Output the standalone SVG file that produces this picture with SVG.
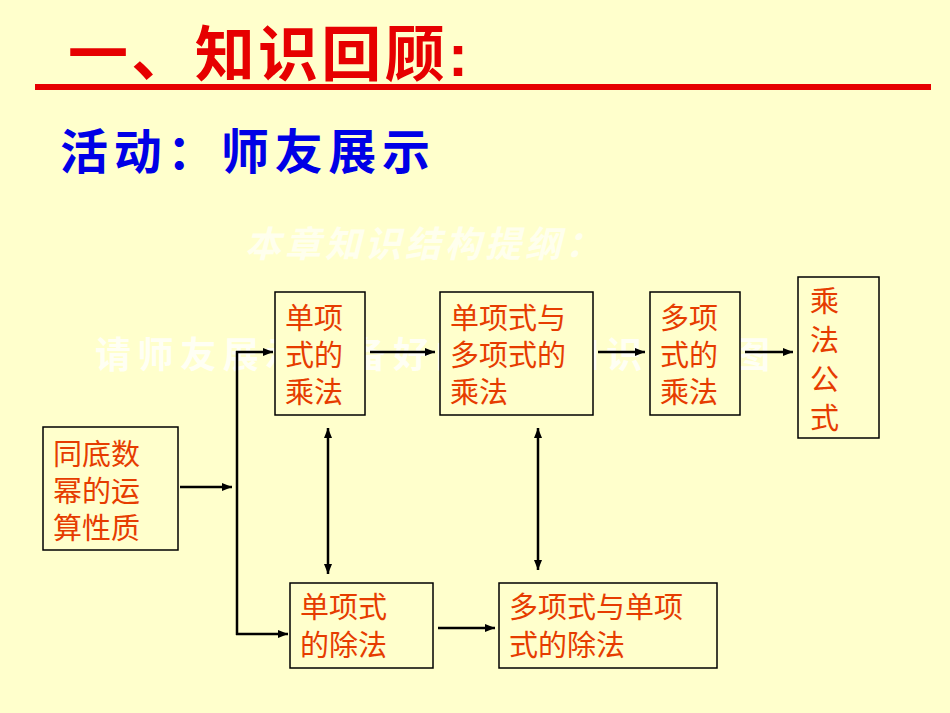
<svg xmlns="http://www.w3.org/2000/svg" width="950" height="713" viewBox="0 0 950 713">
<defs>
<marker id="ah" viewBox="0 0 10 10" refX="10" refY="5" markerWidth="4" markerHeight="4" orient="auto-start-reverse" markerUnits="strokeWidth"><path d="M0,1 L10,5 L0,9 z" fill="#000"/></marker>
<style>
.box{fill:#FFFFCC;stroke:#000;stroke-width:1.5}
.t{font-family:"Liberation Sans","Noto Sans CJK SC",sans-serif;font-size:29px;fill:#E63C00}
.c{stroke:#000;stroke-width:2.5;fill:none}
.a{marker-end:url(#ah)}
</style>
</defs>
<rect width="950" height="713" fill="#FFFFCC"/>
<text x="68" y="76" font-family="Liberation Sans,Noto Sans CJK SC,sans-serif" font-size="60" font-weight="bold" fill="#E60000" textLength="400">一、知识回顾:</text>
<rect x="35" y="84" width="896" height="6" fill="#E60000"/>
<text x="60" y="169" font-family="Liberation Sans,Noto Sans CJK SC,sans-serif" font-size="48" font-weight="bold" fill="#0000E6" textLength="370">活动：师友展示</text>
<text x="245" y="257" font-family="Noto Sans CJK SC,sans-serif" font-size="36" font-weight="bold" fill="#FFFFEE" font-style="italic" letter-spacing="4">本章知识结构提纲：</text>
<text x="95" y="368" font-family="Noto Sans CJK SC,sans-serif" font-size="36" font-weight="bold" fill="#FFFFF4" textLength="675">请师友展示准备好的本章知识结构图</text>
<g id="n1"><rect class="box" x="43" y="427" width="135" height="123"/><text class="t" x="53" y="465">同底数</text><text class="t" x="53" y="502">幂的运</text><text class="t" x="53" y="539">算性质</text></g>
<g id="n2"><rect class="box" x="275" y="292" width="90" height="123"/><text class="t" x="285" y="329">单项</text><text class="t" x="285" y="366">式的</text><text class="t" x="285" y="403">乘法</text></g>
<g id="n3"><rect class="box" x="440" y="292" width="153" height="123"/><text class="t" x="450" y="329">单项式与</text><text class="t" x="450" y="366">多项式的</text><text class="t" x="450" y="403">乘法</text></g>
<g id="n4"><rect class="box" x="650" y="292" width="90" height="123"/><text class="t" x="660" y="329">多项</text><text class="t" x="660" y="366">式的</text><text class="t" x="660" y="403">乘法</text></g>
<g id="n5"><rect class="box" x="798" y="277" width="81" height="161"/><text class="t" x="810" y="312">乘</text><text class="t" x="810" y="351">法</text><text class="t" x="810" y="390">公</text><text class="t" x="810" y="429">式</text></g>
<g id="n6"><rect class="box" x="290" y="583" width="143" height="85"/><text class="t" x="300" y="618">单项式</text><text class="t" x="300" y="656">的除法</text></g>
<g id="n7"><rect class="box" x="499" y="583" width="218" height="85"/><text class="t" x="509" y="618">多项式与单项</text><text class="t" x="509" y="656">式的除法</text></g>
<g id="connectors">
<line class="c a" x1="180" y1="487" x2="232" y2="487"/>
<line class="c" x1="237" y1="351" x2="237" y2="635"/>
<line class="c a" x1="236" y1="352" x2="273" y2="352"/>
<line class="c a" x1="236" y1="634" x2="288" y2="634"/>
<line class="c a" x1="370" y1="352" x2="435" y2="352"/>
<line class="c a" x1="598" y1="352" x2="645" y2="352"/>
<line class="c a" x1="745" y1="352" x2="793" y2="352"/>
<line class="c a" x1="328" y1="428" x2="328" y2="574" style="marker-start:url(#ah)"/>
<line class="c a" x1="538" y1="428" x2="538" y2="570" style="marker-start:url(#ah)"/>
<line class="c a" x1="438" y1="628" x2="495" y2="628"/>
</g>
</svg>
